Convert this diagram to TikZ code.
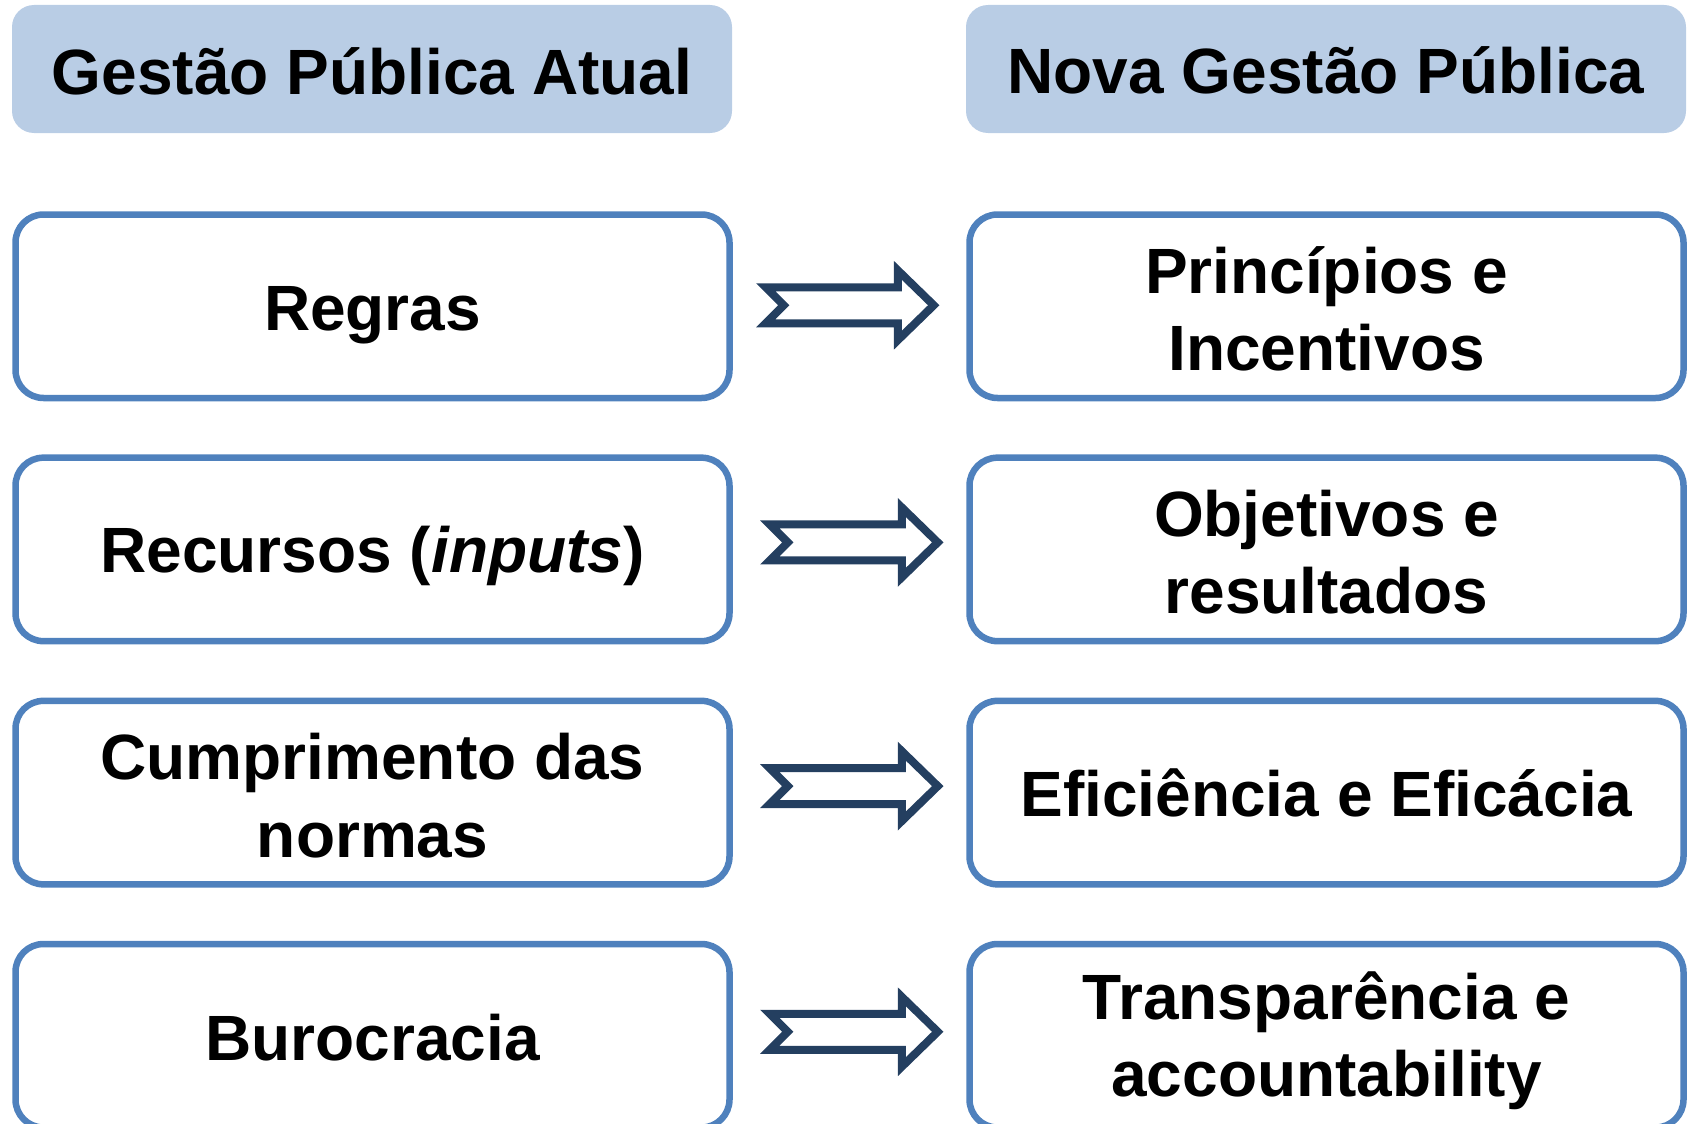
\documentclass[tikz,border=0pt]{standalone}
\usepackage{fontspec}
\setmainfont{Liberation Sans}
\usetikzlibrary{calc}
\definecolor{boxblue}{HTML}{4F81BD}
\definecolor{headfill}{HTML}{B9CDE5}
\definecolor{arrowblue}{HTML}{243F60}
\newcommand{\flowarrow}[3]{%
  \draw[flow] ($(#1.east)+(#2+10,#3-18)$) -- ++(132,0) -- ++(0,-17) -- ++(36,35)
    -- ++(-36,35) -- ++(0,-17) -- ++(-132,0) -- ++(18,-18) -- cycle;}
\begin{document}
\begin{tikzpicture}[x=1pt,y=-1pt,
  header/.style={fill=headfill, draw=none, rounded corners=22pt, minimum width=720pt,
    minimum height=128pt, inner sep=0pt},
  rowbox/.style={draw=boxblue, fill=white, line width=6.5pt, rounded corners=28pt,
    minimum width=714pt, minimum height=183.5pt, inner sep=0pt},
  lbl/.style={anchor=base, inner sep=0pt, font=\fontsize{64}{77}\selectfont\bfseries},
  flow/.style={draw=arrowblue, fill=white, line width=8pt, line join=miter}
]
\useasboundingbox (0,0) rectangle (1689,1124);
\clip (0,0) rectangle (1689,1124);
% headers
\node[header] (hl) at (372,69) {};
\node[header] (hr) at (1326,69) {};
\node[lbl] (hlt) at ($(hl.center)+(0,25)$) {Gestão Pública Atual};
\node[lbl] (hrt) at ($(hr.center)+(0,24)$) {Nova Gestão Pública};
% boxes
\node[rowbox] (l1) at (372.5,306.25) {};
\node[rowbox] (l2) at (372.5,549.4) {};
\node[rowbox] (l3) at (372.5,792.6) {};
\node[rowbox] (l4) at (372.5,1035.75) {};
\node[rowbox] (r1) at (1326.5,306.25) {};
\node[rowbox] (r2) at (1326.5,549.4) {};
\node[rowbox] (r3) at (1326.5,792.6) {};
\node[rowbox] (r4) at (1326.5,1035.75) {};
% texts
\node[lbl] (t1l) at ($(l1.center)+(0,24.5)$) {Regras};
\node[lbl] (t1ra) at ($(r1.center)+(0,-13)$) {Princípios e};
\node[lbl] (t1rb) at ($(r1.center)+(0,64)$) {Incentivos};
\node[lbl] (t2l) at ($(l2.center)+(0,23)$) {Recursos (\textit{inputs})};
\node[lbl] (t2ra) at ($(r2.center)+(0,-13)$) {Objetivos e};
\node[lbl] (t2rb) at ($(r2.center)+(0,64)$) {resultados};
\node[lbl] (t3la) at ($(l3.center)+(0,-13)$) {Cumprimento das};
\node[lbl] (t3lb) at ($(l3.center)+(0,65)$) {normas};
\node[lbl] (t3r) at ($(r3.center)+(0,24)$) {Eficiência e Eficácia};
\node[lbl] (t4l) at ($(l4.center)+(0,25)$) {Burocracia};
\node[lbl] (t4ra) at ($(r4.center)+(0,-16)$) {Transparência e};
\node[lbl] (t4rb) at ($(r4.center)+(0,61)$) {accountability};
% arrows
\flowarrow{l1}{23}{-1}
\flowarrow{l2}{27}{-7}
\flowarrow{l3}{27}{-6.5}
\flowarrow{l4}{27}{-4}
\end{tikzpicture}
\end{document}
